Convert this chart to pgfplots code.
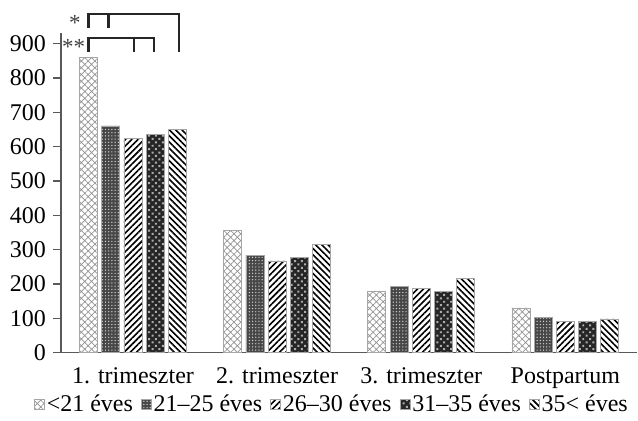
\documentclass[border=0pt]{standalone}
\usepackage{pgfplots}
\pgfplotsset{compat=1.18}
\usepackage{fontspec}
\setmainfont{Liberation Serif}
\usetikzlibrary{patterns,patterns.meta}

\begin{document}
\begin{tikzpicture}
\begin{axis}[
  scale only axis, width=288.5pt, height=160pt,
  xmin=-0.5, xmax=3.5, ymin=0, ymax=931,
  axis x line=bottom, axis y line=left,
  axis line style={-, black!65, line width=0.6pt},
  ytick={0,100,...,900},
  xtick={0,1,2,3},
  xticklabels={1. trimeszter, 2. trimeszter, 3. trimeszter, Postpartum},
  tick align=outside, major tick length=4pt,
  xtick style={draw=none},
  ytick style={black!65, line width=0.6pt},
  tick label style={font=\fontsize{12}{14}\selectfont},
  xticklabel style={yshift=0pt},
  /pgf/number format/assume math mode=true,
  ybar, bar width=0.125,
  clip=false,
  legend columns=5,
  legend style={draw=none, fill=none, at={(0.47,-0.1625)}, anchor=center,
    font=\fontsize{12}{14}\selectfont,
    /tikz/every even column/.append style={column sep=3pt},
    nodes={inner sep=1pt}},
  legend image code/.code={\draw[#1] (0pt,-2.6pt) rectangle (5pt,2.4pt);},
]
\path (rel axis cs:-0.1057,1.103) rectangle (rel axis cs:1.0,-0.206);

\addplot[bar shift=-0.308, fill=white, draw=gray!70, line width=0.4pt,
  postaction={pattern={Hatch[angle=45,distance=2.4pt,line width=0.35pt]}, pattern color=gray!85}]
  coordinates {(0,860) (1,356) (2,177) (3,130)};
\addplot[bar shift=-0.154, fill=black!72, draw=gray!70, line width=0.4pt,
  postaction={pattern={Dots[distance=1.6pt,radius=0.35pt]}, pattern color=gray!35}]
  coordinates {(0,660) (1,284) (2,193) (3,103)};
\addplot[bar shift=0, fill=white, draw=gray!70, line width=0.4pt,
  postaction={pattern={Lines[angle=45,distance=2.2pt,line width=0.8pt]}, pattern color=black}]
  coordinates {(0,625) (1,267) (2,188) (3,92)};
\addplot[bar shift=0.154, fill=black!85, draw=gray!70, line width=0.4pt,
  postaction={pattern={Dots[distance=2.4pt,radius=0.7pt,angle=45]}, pattern color=gray!65}]
  coordinates {(0,635) (1,276) (2,177) (3,92)};
\addplot[bar shift=0.308, fill=white, draw=gray!70, line width=0.4pt,
  postaction={pattern={Lines[angle=-45,distance=2.2pt,line width=0.8pt]}, pattern color=black}]
  coordinates {(0,649) (1,315) (2,215) (3,98)};

\legend{<21 éves, 21–25 éves, 26–30 éves, 31–35 éves, 35< éves}

% significance brackets
\draw[black!85, line width=1.3pt]
  (axis cs:-0.308,946) -- (axis cs:-0.308,986) -- (axis cs:0.318,986) -- (axis cs:0.318,876);
\draw[black!85, line width=1.3pt]
  (axis cs:-0.168,986) -- (axis cs:-0.168,946);
\draw[black!85, line width=1.3pt]
  (axis cs:-0.308,876) -- (axis cs:-0.308,916) -- (axis cs:0.146,916) -- (axis cs:0.146,876);
\draw[black!85, line width=1.3pt]
  (axis cs:0.006,916) -- (axis cs:0.006,876);
\node[anchor=base east, inner sep=0pt, black!75, font=\fontsize{11.5}{14}\selectfont] at (axis cs:-0.36,938) {*};
\node[anchor=base east, inner sep=0pt, black!75, font=\fontsize{11.5}{14}\selectfont] at (axis cs:-0.33,868) {**};
\end{axis}
\end{tikzpicture}
\end{document}
